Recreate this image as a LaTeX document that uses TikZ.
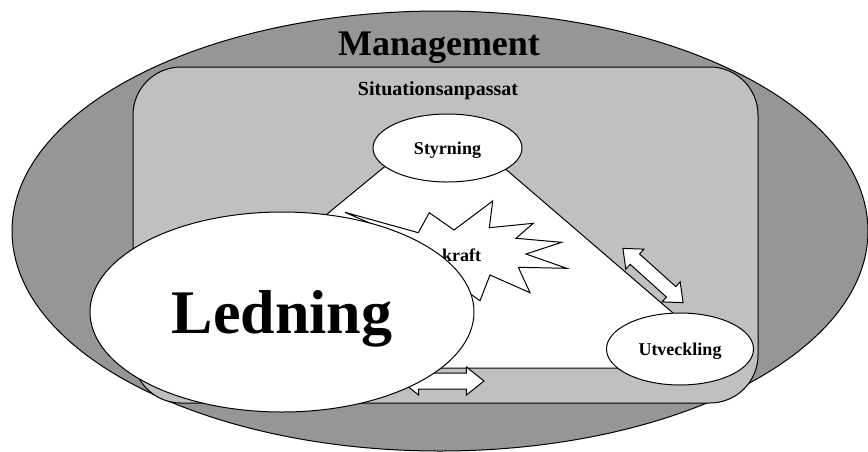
\documentclass[tikz,border=0pt]{standalone}
\usepackage{fontspec}
\setmainfont{Liberation Serif}
\usetikzlibrary{shapes.geometric,shapes.arrows}

\definecolor{outergray}{RGB}{150,150,150}
\definecolor{innergray}{RGB}{192,192,192}

\begin{document}
\begin{tikzpicture}[x=1pt,y=-1pt,line width=1pt,
  bubble/.style={ellipse,draw,fill=white,inner sep=0pt,text depth=0pt,font=\bfseries\fontsize{18}{20}\selectfont},
  twoway/.style={double arrow,draw,fill=white,inner sep=0pt,text depth=0pt,double arrow head extend=6pt}]
\useasboundingbox (0,0) rectangle (868,451);

% outer field and inner box
\node[ellipse,draw,fill=outergray,minimum width=856pt,minimum height=440pt] (mgmt) at (440,231) {};
\node[font=\bfseries\fontsize{36}{40}\selectfont,text depth=0pt] (title) at (439,44) {Management};
\node[draw,fill=innergray,rounded corners=48pt,minimum width=625pt,minimum height=336pt] (situ) at (445.5,235) {};
\node[font=\bfseries\fontsize{20}{22}\selectfont,text depth=0pt] (situlabel) at (438,89) {Situationsanpassat};

% triangle
\coordinate (top) at (445,117);
\coordinate (right) at (737,368);
\coordinate (left) at (140,368);
\draw[fill=white] (top) -- (right) -- (left) -- cycle;

\node[bubble,minimum width=149pt,minimum height=68pt] (styr) at (447.5,148) {Styrning};

% burst
\draw[fill=white] (345,212.3) -- (418.3,232.7) -- (429.3,212.7) -- (454,230) -- (492.7,201)
  -- (489.3,227.7) -- (533.3,223.3) -- (516,238.3) -- (561.7,242.3) -- (526,254)
  -- (566.7,268.3) -- (518.3,267.3) -- (530,292.7) -- (490,275) -- (480,300.7)
  -- (462,288) -- (430,300) -- (415,270) -- (395,234) -- cycle;
\node[font=\bfseries\fontsize{18}{20}\selectfont,text depth=0pt] (kraft) at (461.5,255) {kraft};

% arrows
\node[twoway,text height=13pt,minimum height=81pt,double arrow head extend=6.5pt,double arrow tip angle=80,rotate=-42] (diag) at (653,275.5) {};
\node[twoway,text height=15pt,minimum height=83pt,double arrow head extend=6pt,double arrow tip angle=77] (flat) at (442.5,381) {};

\node[bubble,minimum width=147pt,minimum height=72pt] (utv) at (680,349) {Utveckling};
\node[bubble,minimum width=384pt,minimum height=200pt,font=\bfseries\fontsize{62}{64}\selectfont] (led) at (282,312) {Ledning};
\end{tikzpicture}
\end{document}
